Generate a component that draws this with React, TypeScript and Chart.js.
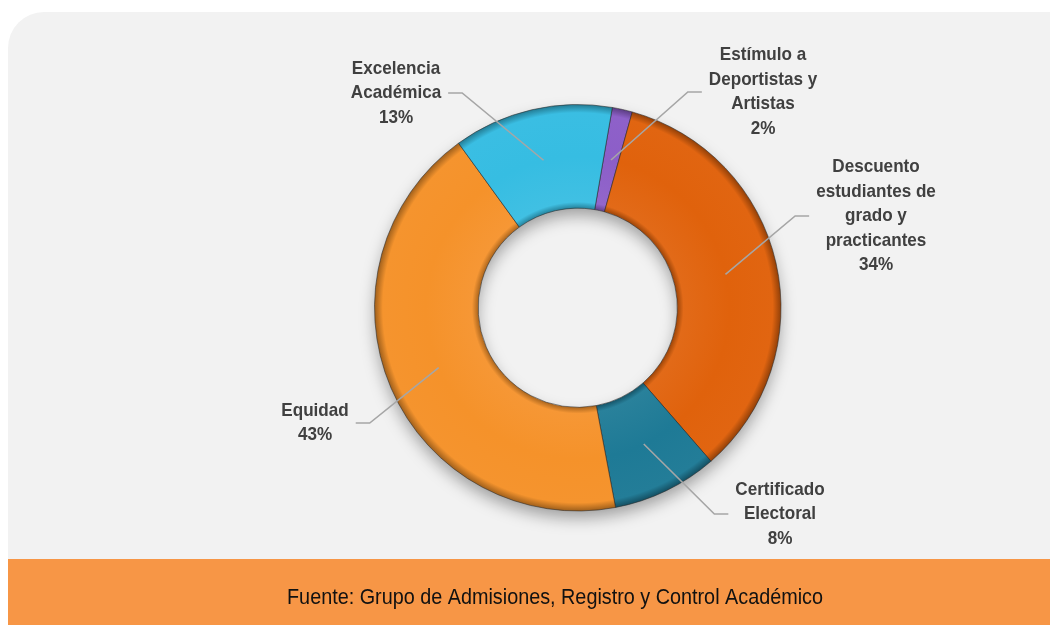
import React, { useEffect, useRef } from "react";
import { Chart, registerables } from "chart.js";

Chart.register(...registerables);

// ---- Data ----
const categories = [
  "Estímulo a Deportistas y Artistas",
  "Descuento estudiantes de grado y practicantes",
  "Certificado Electoral",
  "Equidad",
  "Excelencia Académica",
];
const labelLines = [
  ["Estímulo a", "Deportistas y", "Artistas"],
  ["Descuento", "estudiantes de", "grado y", "practicantes"],
  ["Certificado", "Electoral"],
  ["Equidad"],
  ["Excelencia", "Académica"],
];
const values = [1.6, 34.3, 8.4, 43.0, 12.7];
const colors = ["#8C5EC8", "#E0620C", "#1E7A96", "#F5922A", "#36BDE2"];
const footerText = "Fuente: Grupo de Admisiones, Registro y Control Académico";

// ---- Layout (label block centres, side of the chart) ----
const labelLayout = [
  { x: 763, y: 92, side: "right" },
  { x: 876, y: 216, side: "right" },
  { x: 780, y: 514, side: "right" },
  { x: 315, y: 423, side: "left" },
  { x: 396, y: 93, side: "left" },
];

const TEXT_SCALE = 0.9;
const LINE_H = 24.5;

function shade(hex: string, amt: number) {
  const n = parseInt(hex.slice(1), 16);
  let r = (n >> 16) & 255, g = (n >> 8) & 255, b = n & 255;
  const f = (c: number) => Math.max(0, Math.min(255, Math.round(amt < 0 ? c * (1 + amt) : c + (255 - c) * amt)));
  return `rgb(${f(r)},${f(g)},${f(b)})`;
}

const CUTOUT = 0.49;

export default function App() {
  const ref = useRef<HTMLCanvasElement | null>(null);
  useEffect(() => {
    const canvas = ref.current!;
    const total = values.reduce((a, b) => a + b, 0);

    const bgPlugin = {
      id: "bg",
      beforeDraw(chart: any) {
        const ctx = chart.ctx as CanvasRenderingContext2D;
        ctx.save();
        ctx.fillStyle = "#ffffff";
        ctx.fillRect(0, 0, chart.width, chart.height);
        // panel
        const x0 = 8, y0 = 12, x1 = 1070, y1 = 560, r = 36;
        ctx.fillStyle = "#F2F2F2";
        ctx.beginPath();
        ctx.moveTo(x0 + r, y0);
        ctx.lineTo(x1, y0);
        ctx.lineTo(x1, y1);
        ctx.lineTo(x0, y1);
        ctx.lineTo(x0, y0 + r);
        ctx.arcTo(x0, y0, x0 + r, y0, r);
        ctx.closePath();
        ctx.fill();
        // footer band
        ctx.fillStyle = "#F79646";
        ctx.fillRect(8, 559, chart.width - 8, chart.height - 559);
        ctx.fillStyle = "#111111";
        ctx.font = '22px "Liberation Sans", Arial, sans-serif';
        ctx.textAlign = "center";
        ctx.textBaseline = "middle";
        ctx.translate(555, 598);
        ctx.scale(TEXT_SCALE, 1);
        ctx.fillText(footerText, 0, 0);
        ctx.restore();
      },
      beforeDatasetsDraw(chart: any) {
        const meta = chart.getDatasetMeta(0);
        const arc = meta.data[0];
        if (!arc) return;
        const ctx = chart.ctx as CanvasRenderingContext2D;
        const { x, y, outerRadius, innerRadius } = arc;
        ctx.save();
        ctx.shadowColor = "rgba(0,0,0,0.35)";
        ctx.shadowBlur = 16;
        ctx.shadowOffsetY = 8;
        ctx.fillStyle = "#888";
        ctx.beginPath();
        ctx.arc(x, y, outerRadius - 1, 0, Math.PI * 2);
        ctx.arc(x, y, innerRadius + 1, 0, Math.PI * 2, true);
        ctx.fill();
        ctx.restore();
      },
      afterDraw(chart: any) {
        const ctx = chart.ctx as CanvasRenderingContext2D;
        const meta = chart.getDatasetMeta(0);
        ctx.save();
        ctx.font = 'bold 19px "Liberation Sans", Arial, sans-serif';
        meta.data.forEach((arc: any, i: number) => {
          const lay = labelLayout[i];
          const lines = [...labelLines[i], Math.round((values[i] / total) * 100) + "%"];
          const w = Math.max(...lines.map((l) => ctx.measureText(l).width)) * TEXT_SCALE;
          const p = arc.tooltipPosition();
          const edge = lay.side === "right" ? lay.x - w / 2 - 7 : lay.x + w / 2 + 7;
          const elbow = lay.side === "right" ? edge - 14 : edge + 14;
          ctx.strokeStyle = "#A6A6A6";
          ctx.lineWidth = 1.6;
          ctx.beginPath();
          ctx.moveTo(p.x, p.y);
          ctx.lineTo(elbow, lay.y);
          ctx.lineTo(edge, lay.y);
          ctx.stroke();
          ctx.fillStyle = "#404040";
          ctx.textAlign = "center";
          ctx.textBaseline = "middle";
          const top = lay.y - ((lines.length - 1) * LINE_H) / 2;
          lines.forEach((l, k) => {
            ctx.save();
            ctx.translate(lay.x, top + k * LINE_H);
            ctx.scale(TEXT_SCALE, 1);
            ctx.fillText(l, 0, 0);
            ctx.restore();
          });
        });
        ctx.restore();
      },
    };

    const chart = new Chart(canvas, {
      type: "doughnut",
      data: {
        labels: categories,
        datasets: [
          {
            data: values,
            backgroundColor: (c: any) => {
              const base = colors[c.dataIndex];
              const ca = c.chart.chartArea;
              if (!ca) return base;
              const cx = (ca.left + ca.right) / 2;
              const cy = (ca.top + ca.bottom) / 2;
              const outer = (Math.min(ca.right - ca.left, ca.bottom - ca.top) - 1) / 2;
              const inner = outer * CUTOUT;
              const g = c.chart.ctx.createRadialGradient(cx, cy, inner, cx, cy, outer);
              g.addColorStop(0, shade(base, -0.3));
              g.addColorStop(0.06, shade(base, 0.05));
              g.addColorStop(0.5, base);
              g.addColorStop(0.92, shade(base, 0.02));
              g.addColorStop(1, shade(base, -0.35));
              return g;
            },
            borderColor: "rgba(40,40,40,0.55)",
            borderWidth: 1,
            hoverOffset: 0,
          },
        ],
      },
      options: {
        responsive: false,
        animation: false,
        rotation: 9.8,
        cutout: CUTOUT * 100 + "%",
        layout: { padding: { left: 374, right: 268.5, top: 104, bottom: 113.5 } },
        plugins: { legend: { display: false }, tooltip: { enabled: false } },
        events: [],
      },
      plugins: [bgPlugin],
    } as any);
    return () => chart.destroy();
  }, []);

  return (
    <div style={{ position: "fixed", left: 0, top: 0, width: 1050, height: 625 }}>
      <canvas ref={ref} width={1050} height={625} style={{ width: 1050, height: 625, display: "block" }} />
    </div>
  );
}
